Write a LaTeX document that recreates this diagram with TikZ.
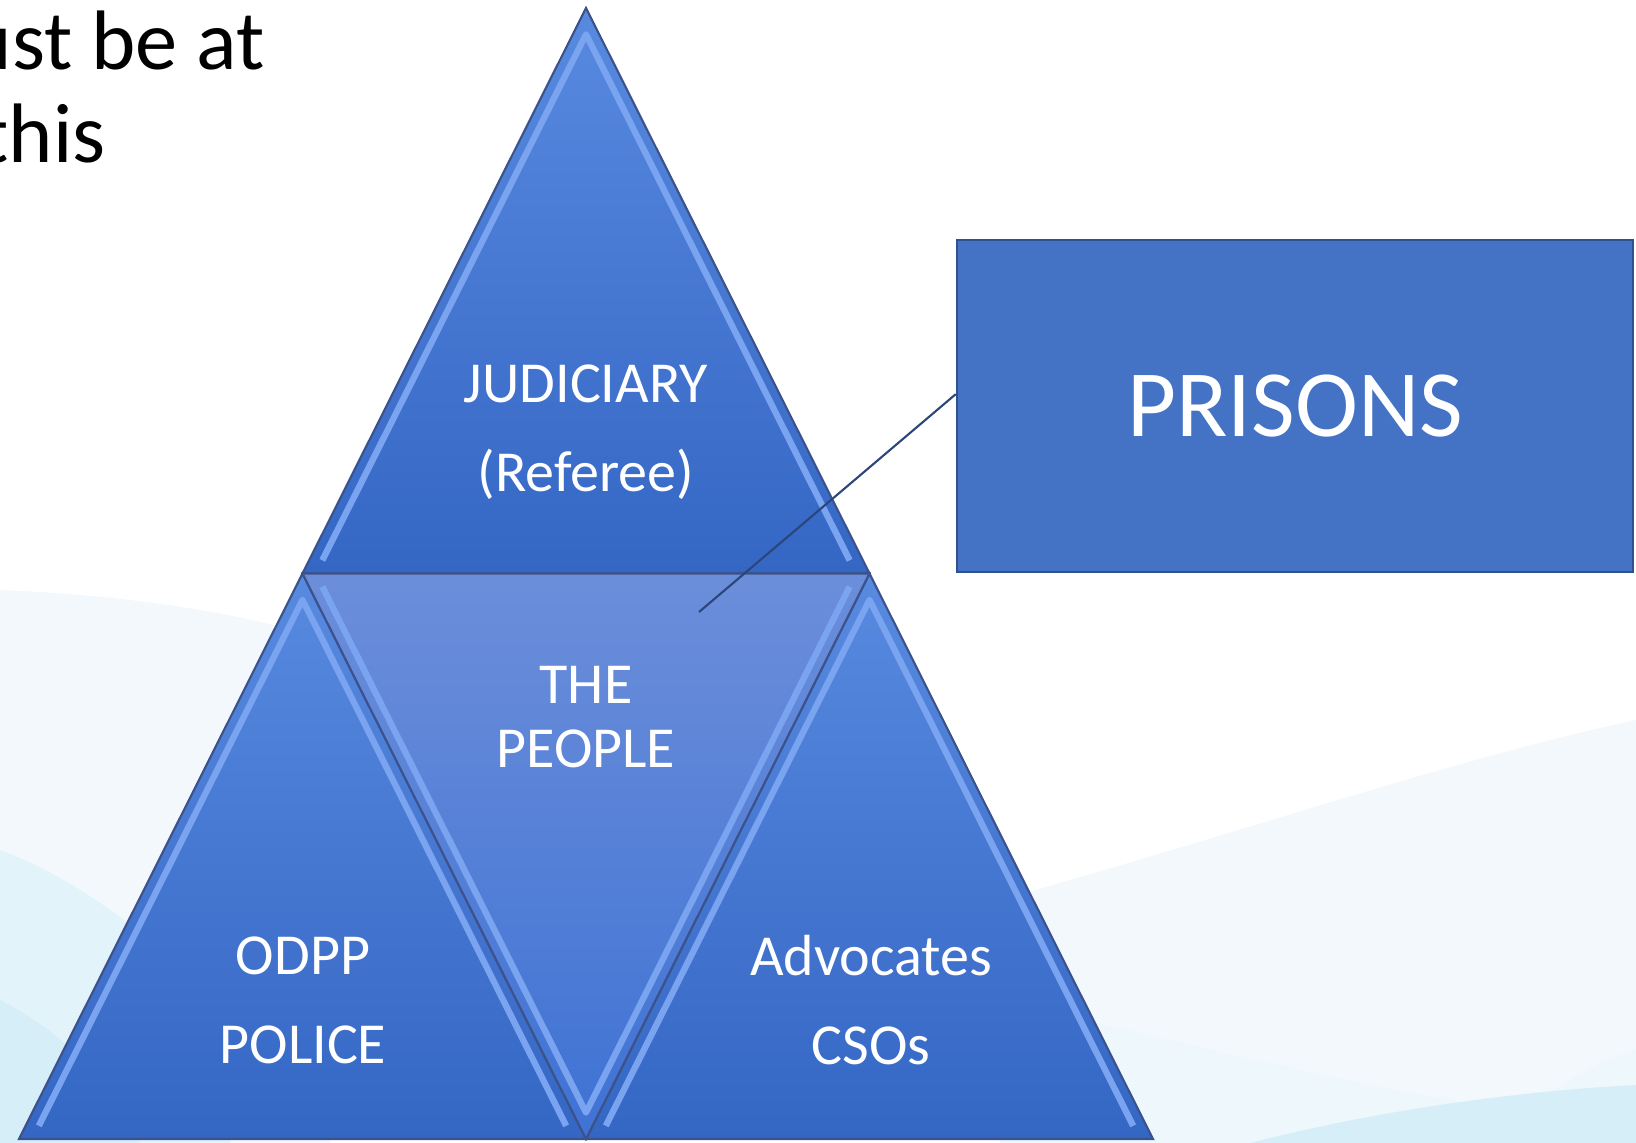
\documentclass[tikz,border=0pt]{standalone}
\usepackage{fontspec}
\setmainfont{Carlito}
\usetikzlibrary{calc}

\definecolor{triLight}{RGB}{88,138,224}
\definecolor{triDark}{RGB}{52,102,196}
\definecolor{midLight}{RGB}{108,142,218}
\definecolor{midDark}{RGB}{62,114,212}
\definecolor{bevelBlue}{RGB}{122,164,240}
\definecolor{edgeBlue}{RGB}{60,82,138}
\definecolor{boxBlue}{RGB}{68,114,196}
\definecolor{boxEdge}{RGB}{47,82,143}
\definecolor{calloutBlue}{RGB}{44,70,124}
\definecolor{waveBlue}{RGB}{214,238,248}
\definecolor{wavePale}{RGB}{243,248,252}

\tikzset{
  tri/.style={top color=triLight, bottom color=triDark, draw=edgeBlue, line width=0.6pt},
  midtri/.style={top color=midLight, bottom color=midDark, draw=edgeBlue, line width=0.6pt},
  bevel/.style={bevelBlue, line width=1.8pt, line join=round},
  tritext/.style={text=white, align=center, font=\fontsize{16.5}{25.3}\selectfont},
  slidetext/.style={anchor=base west, inner sep=0pt, font=\fontsize{24}{28}\selectfont},
  prisonbox/.style={draw=boxEdge, line width=0.6pt, fill=boxBlue, text=white,
    minimum width=6.76cm, minimum height=3.32cm, font=\fontsize{27}{32}\selectfont},
  callout/.style={calloutBlue, line width=0.6pt}
}

\begin{document}
\begin{tikzpicture}[x=0.01cm, y=-0.01cm]
        \useasboundingbox (0,0) rectangle (1636,1143);
        \clip (0,0) rectangle (1636,1143);

        % Background waves
        \fill[wavePale] (0,590) .. controls (120,595) and (230,610) .. (330,640) -- (330,1143) -- (0,1143) -- cycle;
        \fill[waveBlue!70] (0,850) .. controls (80,880) and (160,940) .. (230,1020) -- (230,1143) -- (0,1143) -- cycle;
        \fill[waveBlue] (0,1000) .. controls (60,1030) and (110,1080) .. (140,1143) -- (0,1143) -- cycle;
        \fill[wavePale] (1000,900) .. controls (1250,830) and (1450,760) .. (1636,720) -- (1636,1143) -- (1000,1143) -- cycle;
        \fill[waveBlue!45] (1000,1000) .. controls (1250,1060) and (1420,1100) .. (1520,1110) .. controls (1570,1080) and (1600,1060) .. (1636,1050) -- (1636,1143) -- (1000,1143) -- cycle;
        \fill[waveBlue] (1250,1143) .. controls (1400,1105) and (1540,1090) .. (1636,1085) -- (1636,1143) -- cycle;

        % Slide text cut at the left edge
        \node[slidetext] (lineone) at (-33,70) {ust be at};
        \node[slidetext] (linetwo) at (-20,163) {this};

        % Corners of the pyramid
        \coordinate (apex) at (586,8);
        \coordinate (bl) at (19,1139);
        \coordinate (br) at (1153,1139);
        \coordinate (ml) at (302.5,573.5);
        \coordinate (mr) at (869.5,573.5);
        \coordinate (mb) at (586,1139);

        % Centres of the four triangles
        \coordinate (ctop) at (barycentric cs:apex=1,ml=1,mr=1);
        \coordinate (cleft) at (barycentric cs:ml=1,bl=1,mb=1);
        \coordinate (cright) at (barycentric cs:mr=1,mb=1,br=1);
        \coordinate (cmid) at (barycentric cs:ml=1,mr=1,mb=1);

        % Triangles
        \shade[tri] (apex) -- (ml) -- (mr) -- cycle;
        \shade[tri] (ml) -- (bl) -- (mb) -- cycle;
        \shade[tri] (mr) -- (mb) -- (br) -- cycle;
        \shade[midtri] (ml) -- (mr) -- (mb) -- cycle;

        % Bevel highlights
        \draw[bevel] ($(ctop)!0.93!(ml)$) -- ($(ctop)!0.93!(apex)$) -- ($(ctop)!0.93!(mr)$);
        \draw[bevel] ($(cleft)!0.93!(bl)$) -- ($(cleft)!0.93!(ml)$) -- ($(cleft)!0.93!(mb)$);
        \draw[bevel] ($(cright)!0.93!(mb)$) -- ($(cright)!0.93!(mr)$) -- ($(cright)!0.93!(br)$);
        \draw[bevel] ($(cmid)!0.93!(ml)$) -- ($(cmid)!0.93!(mb)$) -- ($(cmid)!0.93!(mr)$);

        % Labels
        \node[tritext] (judiciary) at (586,432) {JUDICIARY\\(Referee)};
        \node[tritext, font=\fontsize{16.5}{18.2}\selectfont] (people) at (586,717) {THE\\PEOPLE};
        \node[tritext] (odpp) at (303,1000) {ODPP\\POLICE};
        \node[tritext] (advocates) at (871,1000) {Advocates\\CSOs};

        % Prisons box and callout
        \node[prisonbox] (prisons) at (1295,406) {PRISONS};
        \coordinate (peoplept) at (699,612);
        \draw[callout] (prisons.178) -- (peoplept);

    \end{tikzpicture}
\end{document}
